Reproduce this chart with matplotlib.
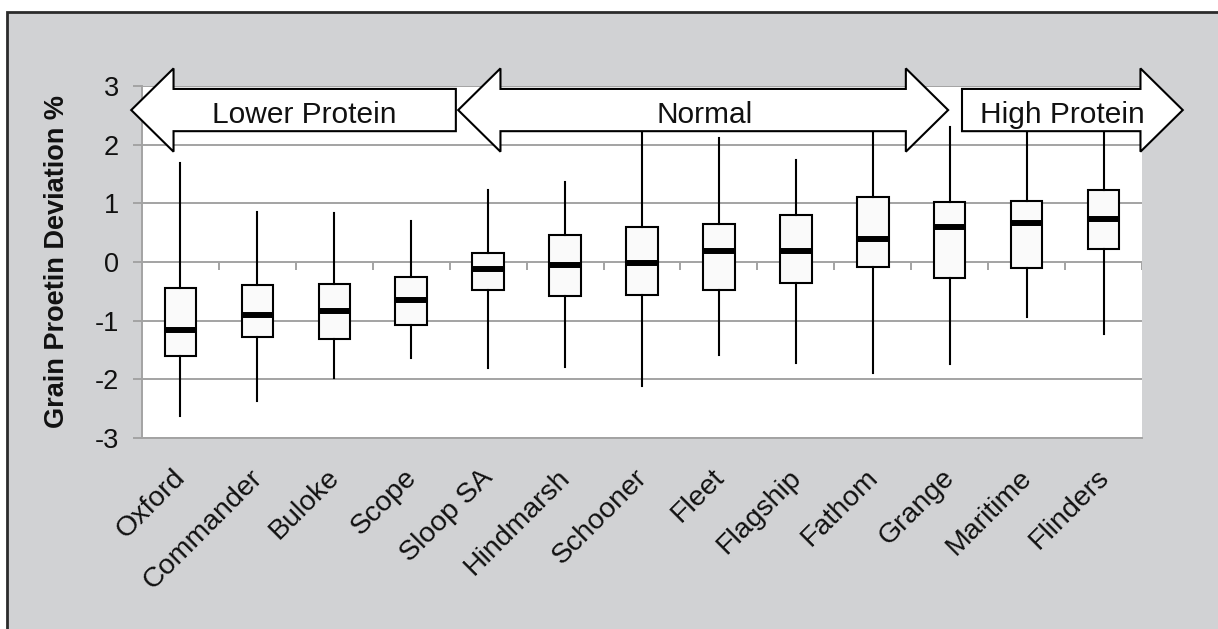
import numpy as np
import matplotlib.pyplot as plt
import matplotlib.transforms as mtransforms
from matplotlib.patches import Polygon, Rectangle

plt.rcParams['font.family'] = ['Liberation Sans', 'DejaVu Sans']

varieties = ['Oxford', 'Commander', 'Buloke', 'Scope', 'Sloop SA', 'Hindmarsh',
             'Schooner', 'Fleet', 'Flagship', 'Fathom', 'Grange', 'Maritime', 'Flinders']
whis_hi = [1.68, 0.85, 0.83, 0.70, 1.23, 1.37, 2.40, 2.11, 1.74, 2.50, 2.30, 2.30, 2.40]
q3 = [-0.44, -0.39, -0.37, -0.25, 0.15, 0.46, 0.60, 0.64, 0.80, 1.11, 1.03, 1.04, 1.23]
median = [-1.16, -0.90, -0.84, -0.65, -0.12, -0.05, -0.02, 0.19, 0.19, 0.40, 0.60, 0.66, 0.73]
q1 = [-1.60, -1.27, -1.31, -1.08, -0.47, -0.58, -0.56, -0.47, -0.36, -0.08, -0.28, -0.11, 0.22]
whis_lo = [-2.62, -2.37, -1.97, -1.63, -1.80, -1.79, -2.12, -1.59, -1.73, -1.89, -1.74, -0.94, -1.22]
yticks = [-3, -2, -1, 0, 1, 2, 3]

# arrow bands: (label, left x, right x, direction, text x)
bands = [('Lower Protein', -0.64, 3.58, 'left', 1.61),
         ('Normal', 3.61, 9.98, 'both', 6.81),
         ('High Protein', 10.16, 13.03, 'right', 11.46)]

fig = plt.figure(figsize=(12.18, 6.29), dpi=100)
fig.patch.set_facecolor('white')
fig.patches.append(Rectangle((7 / 1218, -0.1), 1.2, 1.1 - 12 / 629, transform=fig.transFigure,
                             facecolor='#d1d2d4', edgecolor='#2b2b2b', lw=2, zorder=-10))

ax = fig.add_axes([142 / 1218, 1 - 438 / 629, 1000 / 1218, 352 / 629])
ax.set_facecolor('white')

stats = []
for i in range(len(varieties)):
    stats.append(dict(med=median[i], q1=q1[i], q3=q3[i], whislo=whis_lo[i], whishi=whis_hi[i]))

pos = np.arange(len(varieties))
ax.bxp(stats, positions=pos, widths=0.41, showfliers=False, showcaps=False, patch_artist=True,
       boxprops=dict(facecolor='#fafafa', edgecolor='black', lw=1.5),
       whiskerprops=dict(color='black', lw=1.5),
       medianprops=dict(color='black', lw=4.3, solid_capstyle='butt'),
       zorder=3)

ax.set_xlim(-0.5, len(varieties) - 0.5)
ax.set_ylim(-3, 3)
ax.yaxis.grid(True, color='#a3a3a3', lw=1.4)
ax.set_axisbelow(True)
for s in ['top', 'right']:
    ax.spines[s].set_visible(False)
for s in ['left', 'bottom']:
    ax.spines[s].set_color('#a3a3a3')
    ax.spines[s].set_linewidth(1.4)
ax.tick_params(axis='y', length=6.5, width=1.4, color='#a3a3a3', pad=10)
ax.tick_params(axis='x', length=0, pad=19)
ax.set_yticks(yticks)
ax.set_yticklabels([str(t) for t in yticks], fontsize=19.5, color='#111111')
ax.set_xticks(pos)
ax.set_xticklabels(varieties, rotation=45, ha='right', va='top', rotation_mode='anchor',
                   fontsize=20.5, color='#111111')
shift = mtransforms.ScaledTranslation(-8 / 100, 0, fig.dpi_scale_trans)
for lab in ax.get_xticklabels():
    lab.set_transform(lab.get_transform() + shift)

# category tick marks on the zero line
ax.vlines(np.arange(len(varieties) + 1) - 0.5, -0.14, 0, color='#a3a3a3', lw=1.4, zorder=1)

ax.set_ylabel('Grain Proetin Deviation %', fontsize=19.5, fontweight='bold', color='#111111')
ax.yaxis.set_label_coords(-0.072, 0.5)

yc, bh, hh, hl = 2.59, 0.36, 0.71, 0.55
for label, x0, x1, kind, tx in bands:
    pts = []
    if kind in ('left', 'both'):
        pts += [(x0, yc), (x0 + hl, yc + hh), (x0 + hl, yc + bh)]
    else:
        pts += [(x0, yc - bh), (x0, yc + bh)]
    if kind in ('right', 'both'):
        pts += [(x1 - hl, yc + bh), (x1 - hl, yc + hh), (x1, yc), (x1 - hl, yc - hh), (x1 - hl, yc - bh)]
    else:
        pts += [(x1, yc + bh), (x1, yc - bh)]
    if kind in ('left', 'both'):
        pts += [(x0 + hl, yc - bh), (x0 + hl, yc - hh)]
    ax.add_patch(Polygon(pts, closed=True, facecolor='white', edgecolor='black', lw=1.5,
                         clip_on=False, zorder=5))
    ax.text(tx, 2.50, label, fontsize=21.5, ha='center', va='center', color='#111111', zorder=6)

fig.savefig('out.png', dpi=100)
